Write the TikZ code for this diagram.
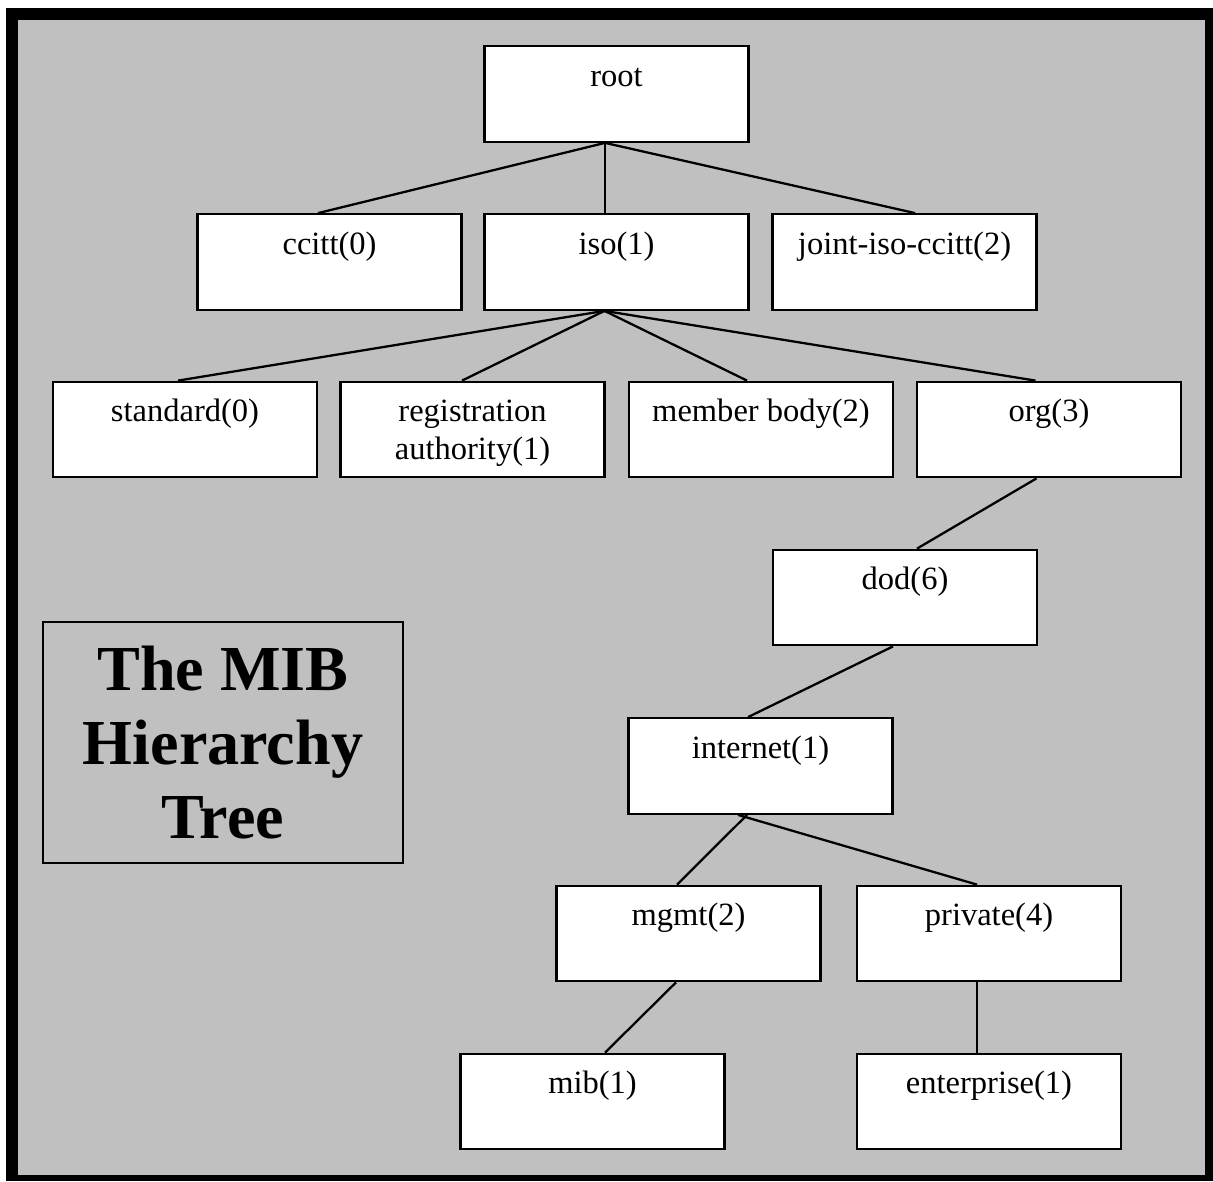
\documentclass[tikz,border=0pt]{standalone}
\usepackage{fontspec}
\setmainfont{Liberation Serif}
\definecolor{panelgray}{RGB}{192,192,192}
\begin{document}
\begin{tikzpicture}[line width=1.3pt, tree node/.style={rectangle,draw,fill=white,inner sep=0pt,text width=5.28cm,align=flush center,text height=0.80cm,text depth=1.11cm}, title node/.style={rectangle,draw,line width=0.9pt,inner sep=0pt,text width=7.2cm,minimum height=4.82cm,align=flush center}]
\useasboundingbox (0,0) rectangle (24.26,-23.62);
\fill [white] (0,0) rectangle (24.26,-23.62);
\fill [black] (0.12,-0.16) rectangle (24.26,-23.62);
\fill [panelgray] (0.36,-0.40) rectangle (24.10,-23.50);
\begin{scope}[every node/.style={font=\fontsize{18.5}{21.5}\selectfont}]
\node [tree node](root) at (12.33,-1.88) {root};
\node [tree node](ccitt) at (6.59,-5.24) {ccitt(0)};
\node [tree node](iso) at (12.33,-5.24) {iso(1)};
\node [tree node](joint) at (18.09,-5.24) {joint-iso-ccitt(2)};
\node [tree node](standard) at (3.70,-8.59) {standard(0)};
\node [tree node](registration) at (9.45,-8.59) {registration\\authority(1)};
\node [tree node](member) at (15.22,-8.59) {member body(2)};
\node [tree node](org) at (20.98,-8.59) {org(3)};
\node [tree node](dod) at (18.10,-11.95) {dod(6)};
\node [tree node](internet) at (15.21,-15.32) {internet(1)};
\node [tree node](mgmt) at (13.77,-18.67) {mgmt(2)};
\node [tree node](private) at (19.78,-18.67) {private(4)};
\node [tree node](mib) at (11.85,-22.03) {mib(1)};
\node [tree node](enterprise) at (19.78,-22.03) {enterprise(1)};
\end{scope}
\node [title node, font=\fontsize{36.5}{42}\selectfont\bfseries](title) at (4.46,-14.85) {The MIB\\Hierarchy\\Tree};
\draw ([xshift=-0.23cm]root.south) -- ([xshift=-0.23cm]ccitt.north);
\draw ([xshift=-0.23cm]root.south) -- ([xshift=-0.23cm]iso.north);
\draw ([xshift=-0.23cm]root.south) -- ([xshift=0.21cm]joint.north);
\draw ([xshift=-0.24cm]iso.south) -- ([xshift=-0.14cm]standard.north);
\draw ([xshift=-0.24cm]iso.south) -- ([xshift=-0.21cm]registration.north);
\draw ([xshift=-0.24cm]iso.south) -- ([xshift=-0.28cm]member.north);
\draw ([xshift=-0.24cm]iso.south) -- ([xshift=-0.27cm]org.north);
\draw ([xshift=-0.25cm]org.south) -- ([xshift=0.24cm]dod.north);
\draw ([xshift=-0.24cm]dod.south) -- ([xshift=-0.25cm]internet.north);
\draw ([xshift=-0.27cm]internet.south) -- ([xshift=-0.23cm]mgmt.north);
\draw ([xshift=-0.45cm]internet.south) -- ([xshift=-0.24cm]private.north);
\draw ([xshift=-0.25cm]mgmt.south) -- ([xshift=0.25cm]mib.north);
\draw ([xshift=-0.24cm]private.south) -- ([xshift=-0.24cm]enterprise.north);
\end{tikzpicture}
\end{document}
